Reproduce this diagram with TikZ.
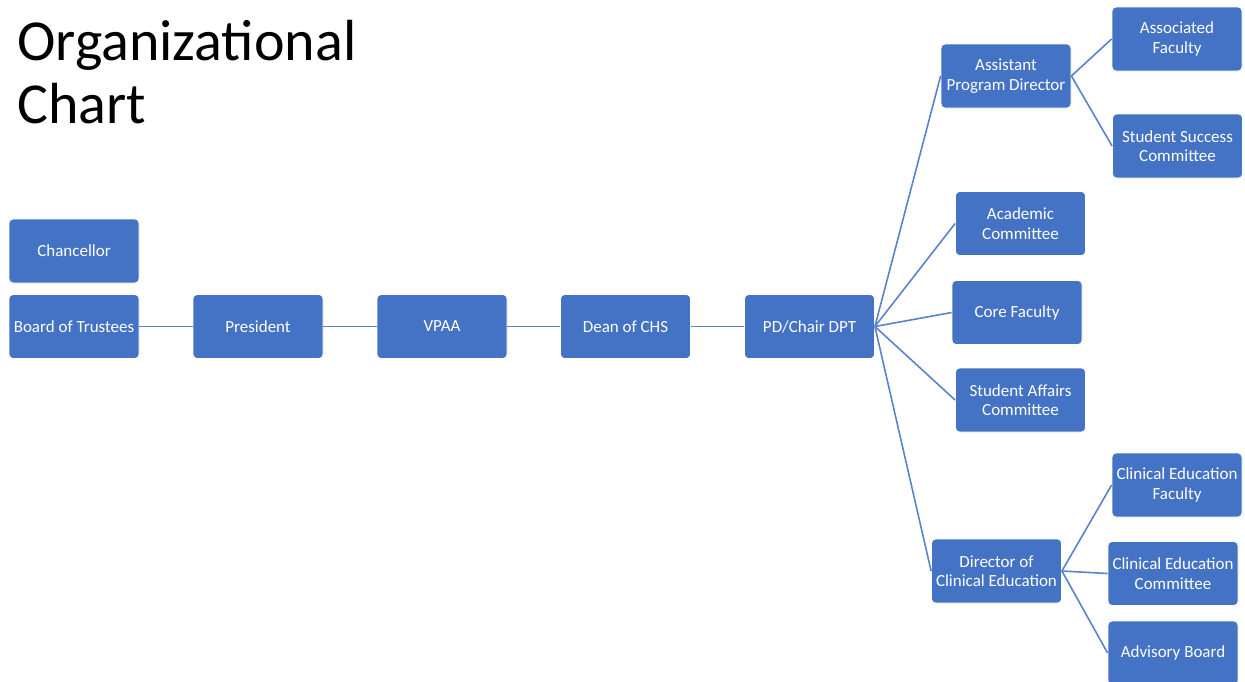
\documentclass[tikz,border=0pt]{standalone}
\usepackage{fontspec}
\setmainfont{Carlito}
\definecolor{boxblue}{HTML}{4472C4}
\definecolor{lineblue}{HTML}{5B82CC}
\begin{document}
\begin{tikzpicture}[x=1pt,y=-1pt,
  box/.style={draw=white,line width=0.8pt,fill=boxblue,rounded corners=4pt,text=white,
    minimum width=130pt,minimum height=64pt,inner sep=0pt,align=center,
    font=\fontsize{17}{19.5}\selectfont},
  link/.style={draw=lineblue,line width=1.6pt}]
\useasboundingbox (0,0) rectangle (1245,681);
\node[anchor=west,font=\fontsize{58}{63}\selectfont,align=left,inner sep=0pt] (title) at (17,72) {Organizational\\Chart};
\node[box] (chan) at (74,251) {Chancellor};
\node[box] (bot) at (74,326.5) {Board of Trustees};
\node[box] (pres) at (258,326.5) {President};
\node[box] (vpaa) at (442,326.5) {VPAA};
\node[box] (dean) at (625.5,326.5) {Dean of CHS};
\node[box] (pd) at (809.5,326.5) {PD/Chair DPT};
\node[box] (apd) at (1006,76) {Assistant\\Program Director};
\node[box] (af) at (1177,39) {Associated\\Faculty};
\node[box] (ssc) at (1177.5,146) {Student Success\\Committee};
\node[box] (ac) at (1020.5,223.5) {Academic\\Committee};
\node[box] (cf) at (1017,312.5) {Core Faculty};
\node[box] (sac) at (1020.5,400) {Student Affairs\\Committee};
\node[box] (dce) at (996.5,571) {Director of\\Clinical Education};
\node[box] (cef) at (1177,485) {Clinical Education\\Faculty};
\node[box] (cec) at (1173,573.5) {Clinical Education\\Committee};
\node[box] (ab) at (1173,653) {Advisory Board};
\draw[link] (bot.east) -- (pres.west);
\draw[link] (pres.east) -- (vpaa.west);
\draw[link] (vpaa.east) -- (dean.west);
\draw[link] (dean.east) -- (pd.west);
\foreach \c in {apd,ac,cf,sac,dce} \draw[link] (pd.east) -- (\c.west);
\foreach \c in {af,ssc} \draw[link] (apd.east) -- (\c.west);
\foreach \c in {cef,cec,ab} \draw[link] (dce.east) -- (\c.west);
\end{tikzpicture}
\end{document}
